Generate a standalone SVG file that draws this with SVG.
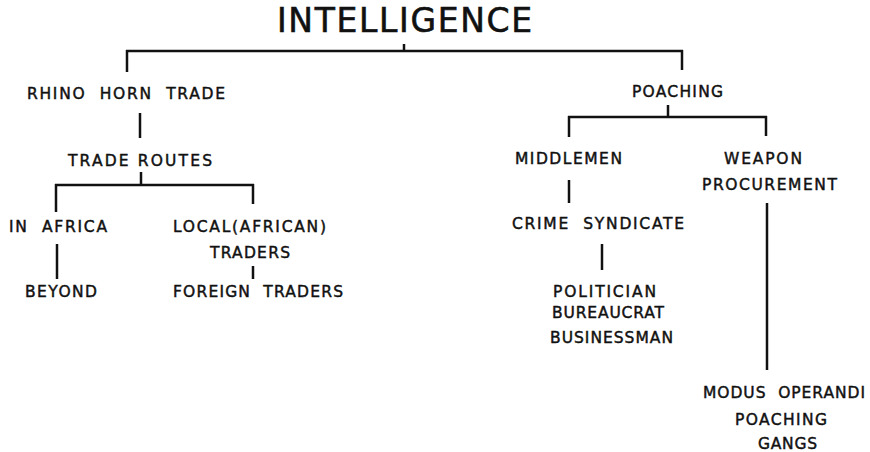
<svg xmlns="http://www.w3.org/2000/svg" width="870" height="452" viewBox="0 0 870 452">
<style>
text{font-family:"DejaVu Sans","Liberation Sans",sans-serif;font-size:15.5px;fill:#111;stroke:#111;stroke-width:0.45px;white-space:pre;}
.t{font-size:33px;stroke-width:0.6px;}
.c line{stroke:#111;stroke-width:2.5;stroke-linecap:butt;}
</style>
<rect width="870" height="452" fill="#fff"/>
<g class="c" id="connectors">
<line x1="404" y1="44" x2="404" y2="52"/>
<line x1="126" y1="51" x2="683" y2="51"/>
<line x1="127" y1="50" x2="127" y2="72"/>
<line x1="682" y1="50" x2="682" y2="70"/>
<line x1="140" y1="113" x2="140" y2="138"/>
<line x1="141" y1="172" x2="141" y2="186"/>
<line x1="55" y1="185" x2="254" y2="185"/>
<line x1="56" y1="184" x2="56" y2="212"/>
<line x1="253" y1="184" x2="253" y2="204"/>
<line x1="57" y1="244" x2="57" y2="279"/>
<line x1="253" y1="266" x2="253" y2="279"/>
<line x1="668" y1="105" x2="668" y2="118"/>
<line x1="568" y1="117" x2="767" y2="117"/>
<line x1="569" y1="116" x2="569" y2="137"/>
<line x1="766" y1="116" x2="766" y2="136"/>
<line x1="569" y1="180" x2="569" y2="203"/>
<line x1="602" y1="244" x2="602" y2="270"/>
<line x1="767" y1="203" x2="767" y2="370"/>
</g>
<g id="intelligence"><text class="t" x="277" y="32" textLength="255" lengthAdjust="spacing">INTELLIGENCE</text></g>
<g id="rhino"><text x="27" y="99" textLength="198" lengthAdjust="spacing">RHINO  HORN  TRADE</text></g>
<g id="routes"><text x="68" y="166" textLength="144" lengthAdjust="spacing">TRADE ROUTES</text></g>
<g id="inafrica"><text x="9" y="232" textLength="98" lengthAdjust="spacing">IN  AFRICA</text></g>
<g id="beyond"><text x="25" y="297" textLength="72" lengthAdjust="spacing">BEYOND</text></g>
<g id="local"><text x="173" y="232" textLength="153" lengthAdjust="spacing">LOCAL(AFRICAN)</text><text x="210" y="258" textLength="80" lengthAdjust="spacing">TRADERS</text></g>
<g id="foreign"><text x="173" y="297" textLength="170" lengthAdjust="spacing">FOREIGN  TRADERS</text></g>
<g id="poaching"><text x="632" y="97" textLength="91" lengthAdjust="spacing">POACHING</text></g>
<g id="middlemen"><text x="515" y="164" textLength="107" lengthAdjust="spacing">MIDDLEMEN</text></g>
<g id="weapon"><text x="724" y="164" textLength="78" lengthAdjust="spacing">WEAPON</text><text x="702" y="190" textLength="135" lengthAdjust="spacing">PROCUREMENT</text></g>
<g id="crime"><text x="512" y="229" textLength="172" lengthAdjust="spacing">CRIME  SYNDICATE</text></g>
<g id="politician"><text x="553" y="297" textLength="103" lengthAdjust="spacing">POLITICIAN</text><text x="552" y="318" textLength="112" lengthAdjust="spacing">BUREAUCRAT</text><text x="550" y="343" textLength="123" lengthAdjust="spacing">BUSINESSMAN</text></g>
<g id="modus"><text x="703" y="398" textLength="162" lengthAdjust="spacing">MODUS  OPERANDI</text><text x="735" y="425" textLength="92" lengthAdjust="spacing">POACHING</text><text x="758" y="449" textLength="59" lengthAdjust="spacing">GANGS</text></g>
</svg>
